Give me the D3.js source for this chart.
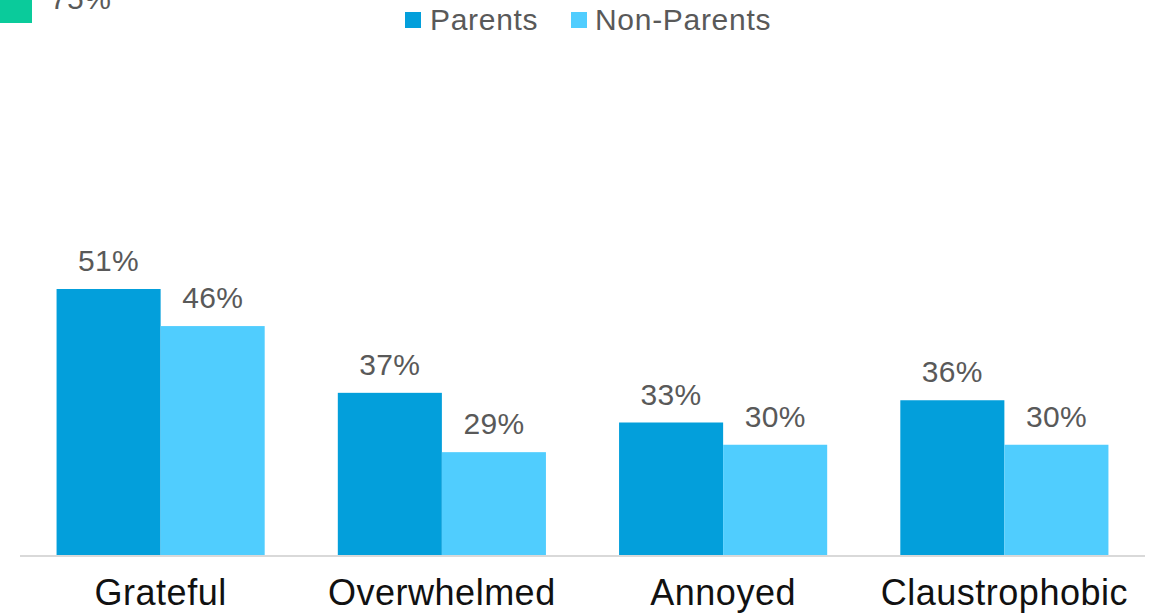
<!DOCTYPE html>
<html>
<head>
<meta charset="utf-8">
<script src="https://cdn.jsdelivr.net/npm/d3@7"></script>
<style>
  html, body { margin: 0; padding: 0; background: #fff; }
  svg { display: block; font-family: "Liberation Sans", Arial, Helvetica, sans-serif; }
</style>
</head>
<body>
<svg id="chart" width="1153" height="615"></svg>
<script>
// Feelings reported by parents vs. non-parents (percent)
const categories = ["Grateful", "Overwhelmed", "Annoyed", "Claustrophobic"];
const seriesNames = ["Parents", "Non-Parents"];
const parents = [51, 37, 33, 36];
const nonParents = [46, 29, 30, 30];
const colors = ["#039fdb", "#50cdfe"];
const cornerValue = "75%";

const svg = d3.select("#chart");

const x = d3.scaleBand()
  .domain(categories)
  .range([20, 1145])
  .paddingInner(0.26)
  .paddingOuter(0.13);

const xSub = d3.scaleBand()
  .domain(seriesNames)
  .range([0, x.bandwidth()]);

const y = d3.scaleLinear()
  .domain([15, 75])
  .range([556, 111]);

const rows = categories.map((c, i) => ({
  category: c,
  values: [
    { series: seriesNames[0], value: parents[i] },
    { series: seriesNames[1], value: nonParents[i] }
  ]
}));

const color = d3.scaleOrdinal().domain(seriesNames).range(colors);

// corner swatch and label carried over from the adjoining panel
svg.append("rect")
  .attr("x", 0).attr("y", -10)
  .attr("width", 32).attr("height", 33)
  .attr("fill", "#0acb9b");
svg.append("text")
  .attr("x", 50).attr("y", 9)
  .attr("font-size", 30)
  .attr("letter-spacing", 0.4)
  .attr("fill", "#595959")
  .text(cornerValue);

// bars
const groups = svg.append("g").selectAll("g")
  .data(rows)
  .join("g")
  .attr("transform", d => `translate(${x(d.category)},0)`);

groups.selectAll("rect")
  .data(d => d.values)
  .join("rect")
  .attr("x", d => xSub(d.series))
  .attr("y", d => y(d.value))
  .attr("width", xSub.bandwidth())
  .attr("height", d => y.range()[0] - y(d.value))
  .attr("fill", d => color(d.series));

// value labels
groups.selectAll("text")
  .data(d => d.values)
  .join("text")
  .attr("x", d => xSub(d.series) + xSub.bandwidth() / 2)
  .attr("y", d => y(d.value) - 18)
  .attr("text-anchor", "middle")
  .attr("font-size", 30)
  .attr("letter-spacing", 0.3)
  .attr("fill", "#595959")
  .text(d => d.value + "%");

// category axis
const xAxis = svg.append("g")
  .attr("transform", "translate(0,556)")
  .call(d3.axisBottom(x).tickSize(0).tickPadding(0));
xAxis.select(".domain").attr("stroke", "#d9d9d9").attr("stroke-width", 2)
  .attr("d", "M20,0H1145");
xAxis.selectAll(".tick text")
  .attr("dy", null)
  .attr("y", 49)
  .attr("font-size", 36)
  .attr("font-family", "Liberation Sans, Arial, sans-serif")
  .attr("letter-spacing", 0.5)
  .attr("fill", "#111");

// legend
const legendItems = [
  { name: seriesNames[0], sx: 405, tx: 430 },
  { name: seriesNames[1], sx: 571, tx: 595 }
];
const legend = svg.append("g").selectAll("g")
  .data(legendItems)
  .join("g");
legend.append("rect")
  .attr("x", d => d.sx).attr("y", 12)
  .attr("width", 16).attr("height", 16)
  .attr("fill", d => color(d.name));
legend.append("text")
  .attr("x", d => d.tx).attr("y", 30)
  .attr("font-size", 30)
  .attr("letter-spacing", 0.7)
  .attr("fill", "#595959")
  .text(d => d.name);
</script>
</body>
</html>
